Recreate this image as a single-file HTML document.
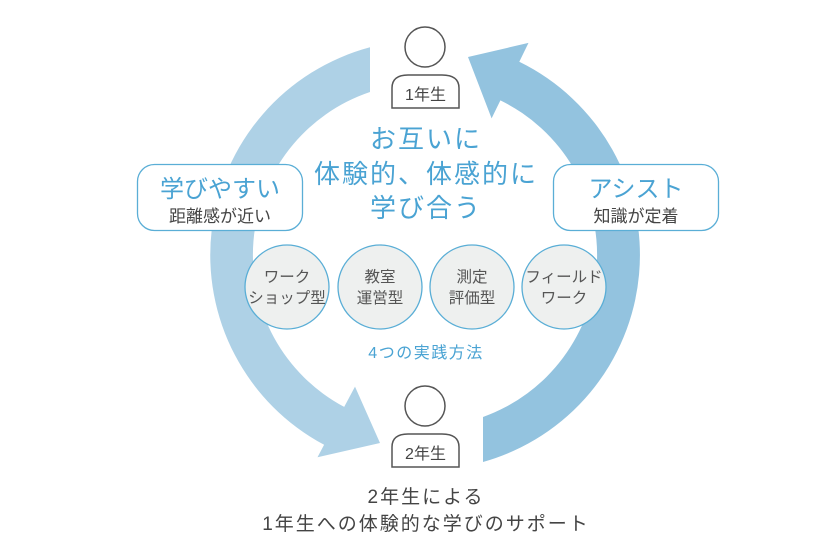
<!DOCTYPE html>
<html><head><meta charset="utf-8"><style>
html,body{margin:0;padding:0;background:#fff;}
svg{display:block;}
text{font-family:"Liberation Sans","Noto Sans CJK JP",sans-serif;}
</style></head><body>
<svg width="840" height="560" viewBox="0 0 840 560" xmlns="http://www.w3.org/2000/svg">
<path d="M370,47.3 A215,215 0 0 0 324.1,444.8 L317.5,457.2 L380,443 L355,386.6 L344.2,406.9 A172,172 0 0 1 370,92 Z" fill="#aed1e6"/>
<path d="M483,462 A215,215 0 0 0 519.3,61.8 L528.5,42.9 L468,57 L491.6,118.4 L500.4,100.4 A172,172 0 0 1 483,417 Z" fill="#93c3df"/>

<circle cx="425" cy="47" r="20" fill="#fff" stroke="#555" stroke-width="1.5"/>
<path d="M392,108 L392,88 Q392,75 408,75 L442,75 Q459,75 459,88 L459,108 Z" fill="#fff" stroke="#555" stroke-width="1.5"/>
<text x="425.5" y="100" font-size="16" fill="#444" text-anchor="middle">1年生</text>
<circle cx="425" cy="406" r="20" fill="#fff" stroke="#555" stroke-width="1.5"/>
<path d="M392,467 L392,447 Q392,434 408,434 L442,434 Q459,434 459,447 L459,467 Z" fill="#fff" stroke="#555" stroke-width="1.5"/>
<text x="425.5" y="459" font-size="16" fill="#444" text-anchor="middle">2年生</text>

<g fill="#4aa3d3" font-size="26" text-anchor="middle" letter-spacing="2">
<text x="426" y="148">お互いに</text>
<text x="426" y="183">体験的、体感的に</text>
<text x="426" y="217">学び合う</text>
</g>

<rect x="137.5" y="164.5" width="165" height="66" rx="17" fill="#fff" stroke="#5aaed6" stroke-width="1.3"/>
<text x="220" y="197" font-size="24" fill="#4aa3d3" text-anchor="middle">学びやすい</text>
<text x="220" y="222" font-size="17" fill="#444" text-anchor="middle">距離感が近い</text>
<rect x="553.5" y="164.5" width="165" height="66" rx="17" fill="#fff" stroke="#5aaed6" stroke-width="1.3"/>
<text x="636" y="197" font-size="24" fill="#4aa3d3" text-anchor="middle">アシスト</text>
<text x="636" y="222" font-size="17" fill="#444" text-anchor="middle">知識が定着</text>

<g fill="#eef0ef" stroke="#5aaed6" stroke-width="1.3">
<circle cx="287" cy="287" r="42"/>
<circle cx="380" cy="287" r="42"/>
<circle cx="472" cy="287" r="42"/>
<circle cx="564" cy="287" r="42"/>
</g>
<g fill="#555" font-size="15.5" text-anchor="middle">
<text x="287" y="282">ワーク</text><text x="287" y="303">ショップ型</text>
<text x="380" y="282">教室</text><text x="380" y="303">運営型</text>
<text x="472" y="282">測定</text><text x="472" y="303">評価型</text>
<text x="564" y="282">フィールド</text><text x="564" y="303">ワーク</text>
</g>
<text x="426" y="358" font-size="16" fill="#4aa3d3" text-anchor="middle" letter-spacing="1.5">4つの実践方法</text>

<text x="426" y="503" font-size="19" fill="#444" text-anchor="middle" letter-spacing="2">2年生による</text>
<text x="426" y="530" font-size="19" fill="#444" text-anchor="middle" letter-spacing="2">1年生への体験的な学びのサポート</text>
</svg>
</body></html>
